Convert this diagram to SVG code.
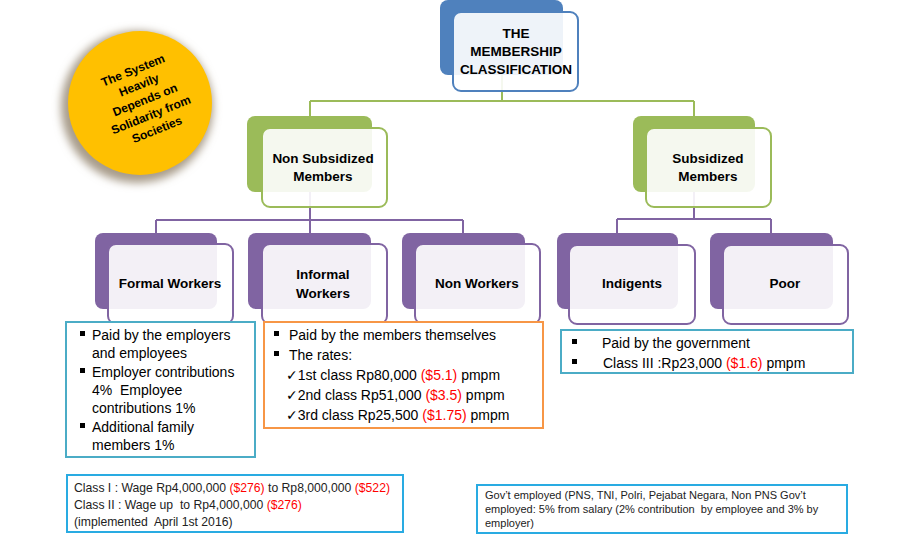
<svg xmlns="http://www.w3.org/2000/svg" width="902" height="534" viewBox="0 0 902 534">
<defs>
<filter id="shadow" x="-30%" y="-30%" width="160%" height="160%">
<feGaussianBlur stdDeviation="4"/>
</filter>
<style>
.lbl{font-family:"Liberation Sans",Arial,sans-serif;font-weight:bold;font-size:13.5px;fill:#000;text-anchor:middle}
.blt{font-family:"Liberation Sans",Arial,sans-serif;font-size:14px;fill:#000}
.sm{font-family:"Liberation Sans",Arial,sans-serif;font-size:12.2px;fill:#222}
.xs{font-family:"Liberation Sans",Arial,sans-serif;font-size:11px;fill:#222}
.red{fill:#ff0000}
.chk{font-family:"DejaVu Sans",sans-serif;font-size:14px}
.front{fill:#ffffff;fill-opacity:0.9;stroke-width:2}
.gline{stroke:#9bbb59;stroke-width:2;fill:none}
.pline{stroke:#8064a2;stroke-width:2;fill:none}
</style>
</defs>
<rect width="902" height="534" fill="#ffffff"/>

<g id="connectors">
<path class="gline" d="M502,75 V101 M310,101 H694 M310,101 V117 M694,101 V117"/>
<path class="pline" d="M310,192 V220 M156,220 H463 M156,220 V233 M310,220 V233 M463,220 V233"/>
<path class="pline" d="M694,192 V219 M617,219 H771 M617,219 V233 M771,219 V233"/>
</g>

<g id="solidarity">
<circle cx="137" cy="107" r="76" fill="#a89c8a" filter="url(#shadow)"/>
<circle cx="140" cy="103" r="72" fill="#ffc000"/>
<g transform="rotate(-22 145 100)" class="lbl" style="font-size:12px">
<text x="145" y="72">The System</text>
<text x="145" y="88">Heavily</text>
<text x="145" y="104">Depends on</text>
<text x="145" y="120">Solidarity from</text>
<text x="145" y="136">Societies</text>
</g>
</g>

<g id="membership">
<rect x="440" y="0" width="123" height="75" rx="8" fill="#4f81bd"/>
<rect x="453" y="12" width="125" height="79" rx="8" class="front" stroke="#4f81bd"/>
<text class="lbl" x="516" y="38">THE</text>
<text class="lbl" x="516" y="56">MEMBERSHIP</text>
<text class="lbl" x="516" y="74">CLASSIFICATION</text>
</g>

<g id="nonsubsidized">
<rect x="247" y="116" width="125" height="76" rx="8" fill="#9bbb59"/>
<rect x="262" y="128" width="125" height="79" rx="8" class="front" stroke="#9bbb59"/>
<text class="lbl" x="323" y="163">Non Subsidized</text>
<text class="lbl" x="323" y="181">Members</text>
</g>

<g id="subsidized">
<rect x="633" y="116" width="122" height="76" rx="8" fill="#9bbb59"/>
<rect x="646" y="128" width="125" height="79" rx="8" class="front" stroke="#9bbb59"/>
<text class="lbl" x="708" y="163">Subsidized</text>
<text class="lbl" x="708" y="181">Members</text>
</g>

<g id="formal">
<rect x="95" y="233" width="122" height="76" rx="8" fill="#8064a2"/>
<rect x="108" y="244" width="125" height="80" rx="8" class="front" stroke="#8064a2"/>
<text class="lbl" x="170" y="288">Formal Workers</text>
</g>

<g id="informal">
<rect x="248" y="233" width="123" height="76" rx="8" fill="#8064a2"/>
<rect x="262" y="244" width="125" height="80" rx="8" class="front" stroke="#8064a2"/>
<text class="lbl" x="323" y="279">Informal</text>
<text class="lbl" x="323" y="298">Workers</text>
</g>

<g id="nonworkers">
<rect x="402" y="233" width="123" height="76" rx="8" fill="#8064a2"/>
<rect x="415" y="244" width="125" height="80" rx="8" class="front" stroke="#8064a2"/>
<text class="lbl" x="477" y="288">Non Workers</text>
</g>

<g id="indigents">
<rect x="557" y="233" width="121" height="76" rx="8" fill="#8064a2"/>
<rect x="569" y="245" width="126" height="79" rx="8" class="front" stroke="#8064a2"/>
<text class="lbl" x="632" y="288">Indigents</text>
</g>

<g id="poor">
<rect x="710" y="233" width="123" height="76" rx="8" fill="#8064a2"/>
<rect x="723" y="245" width="125" height="79" rx="8" class="front" stroke="#8064a2"/>
<text class="lbl" x="785" y="288">Poor</text>
</g>

<g id="formal-box">
<rect x="66" y="322" width="189" height="135" fill="#ffffff" stroke="#4bacc6" stroke-width="2"/>
<g class="blt">
<rect x="80" y="331" width="5" height="5" fill="#000"/>
<text x="92" y="340">Paid by the employers</text>
<text x="92" y="358">and employees</text>
<rect x="80" y="368" width="5" height="5" fill="#000"/>
<text x="92" y="377">Employer contributions</text>
<text x="92" y="395" xml:space="preserve">4%  Employee</text>
<text x="92" y="413">contributions 1%</text>
<rect x="80" y="423" width="5" height="5" fill="#000"/>
<text x="92" y="432">Additional family</text>
<text x="92" y="450">members 1%</text>
</g>
</g>

<g id="informal-box">
<rect x="264" y="322" width="279" height="106" fill="#ffffff" stroke="#f79646" stroke-width="2"/>
<g class="blt">
<rect x="274" y="331" width="5" height="5" fill="#000"/>
<text x="289" y="340">Paid by the members themselves</text>
<rect x="274" y="351" width="5" height="5" fill="#000"/>
<text x="289" y="360">The rates:</text>
<text x="286" y="380"><tspan class="chk">✓</tspan>1st class Rp80,000 <tspan class="red">($5.1)</tspan> pmpm</text>
<text x="286" y="400"><tspan class="chk">✓</tspan>2nd class Rp51,000 <tspan class="red">($3.5)</tspan> pmpm</text>
<text x="286" y="420"><tspan class="chk">✓</tspan>3rd class Rp25,500 <tspan class="red">($1.75)</tspan> pmpm</text>
</g>
</g>

<g id="subsidized-box">
<rect x="561" y="330" width="292" height="43" fill="#ffffff" stroke="#4bacc6" stroke-width="2"/>
<g class="blt">
<rect x="572" y="339" width="5" height="5" fill="#000"/>
<text x="602" y="348">Paid by the government</text>
<rect x="572" y="359" width="5" height="5" fill="#000"/>
<text x="603" y="368">Class III :Rp23,000 <tspan class="red">($1.6)</tspan> pmpm</text>
</g>
</g>

<g id="class-box">
<rect x="67" y="475" width="336" height="57" fill="#ffffff" stroke="#29abe2" stroke-width="2"/>
<g class="sm">
<text x="74" y="492">Class I : Wage Rp4,000,000 <tspan class="red">($276)</tspan> to Rp8,000,000 <tspan class="red">($522)</tspan></text>
<text x="74" y="509" xml:space="preserve">Class II : Wage up  to Rp4,000,000 <tspan class="red">($276)</tspan></text>
<text x="74" y="526" xml:space="preserve">(implemented  April 1st 2016)</text>
</g>
</g>

<g id="gov-box">
<rect x="477" y="485" width="370" height="48" fill="#ffffff" stroke="#29abe2" stroke-width="2"/>
<g class="xs">
<text x="485" y="499">Gov’t employed (PNS, TNI, Polri, Pejabat Negara, Non PNS Gov’t</text>
<text x="485" y="513" xml:space="preserve">employed: 5% from salary (2% contribution  by employee and 3% by</text>
<text x="485" y="527">employer)</text>
</g>
</g>
</svg>
